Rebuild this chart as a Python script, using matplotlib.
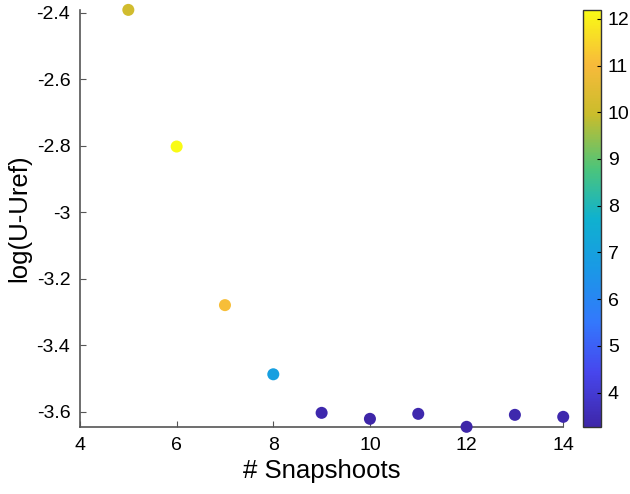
import matplotlib
matplotlib.use("Agg")
import matplotlib.pyplot as plt
from matplotlib.colors import LinearSegmentedColormap

# data
snapshots = [5, 6, 7, 8, 9, 10, 11, 12, 13, 14]
log_err = [-2.391, -2.802, -3.279, -3.487, -3.603, -3.621, -3.606, -3.645, -3.609, -3.615]
color_val = [10.1, 12.19, 11.1, 6.9, 3.35, 3.3, 3.35, 3.27, 3.35, 3.35]

# rough parula
parula_pts = [
    (0.00, (0.2422, 0.1504, 0.6603)),
    (0.13, (0.2780, 0.2760, 0.9300)),
    (0.25, (0.2000, 0.4700, 0.9900)),
    (0.38, (0.1000, 0.6000, 0.9000)),
    (0.50, (0.0600, 0.6950, 0.8100)),
    (0.62, (0.3000, 0.7700, 0.4800)),
    (0.75, (0.7900, 0.7400, 0.1700)),
    (0.87, (0.9700, 0.7300, 0.2300)),
    (1.00, (0.9769, 0.9839, 0.0805)),
]
parula = LinearSegmentedColormap.from_list("parula", parula_pts)

plt.rcParams['font.family'] = ['Liberation Sans', 'DejaVu Sans']

fig = plt.figure(figsize=(6.3, 4.94), dpi=100)
ax = fig.add_axes([0.127, 0.136, 0.767, 0.844])
sc = ax.scatter(snapshots, log_err, c=color_val, cmap=parula, vmin=3.27, vmax=12.19,
                s=75, edgecolors='none', clip_on=False, zorder=3)
ax.set_xlim(4, 14)
ax.set_ylim(-3.645, -2.391)
ax.set_xticks([4, 6, 8, 10, 12, 14])
ax.set_yticks([-3.6, -3.4, -3.2, -3, -2.8, -2.6, -2.4])
ax.set_yticklabels(['-3.6', '-3.4', '-3.2', '-3', '-2.8', '-2.6', '-2.4'])
for side in ['top', 'right']:
    ax.spines[side].set_visible(False)
for side in ['left', 'bottom']:
    ax.spines[side].set_color('#555555')
    ax.spines[side].set_linewidth(1.2)
ax.tick_params(direction='in', length=4, color='#555555', labelsize=14, pad=7)
ax.set_xlabel('# Snapshoots', fontsize=18.5, labelpad=4)
ax.set_ylabel('log(U-Uref)', fontsize=18.5, labelpad=4)

cax = fig.add_axes([0.925, 0.136, 0.029, 0.844])
cb = fig.colorbar(sc, cax=cax, ticks=range(4, 13))
cb.outline.set_edgecolor('#333333')
cb.outline.set_linewidth(1.0)
cax.tick_params(direction='in', length=3, labelsize=14, pad=5)

fig.savefig('out.png', dpi=100)
